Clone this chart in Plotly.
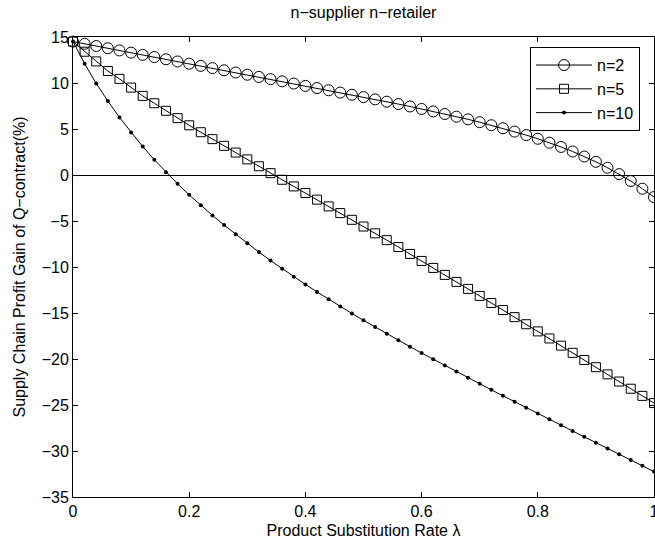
import plotly.graph_objects as go

lam = [0.00, 0.02, 0.04, 0.06, 0.08, 0.10, 0.12, 0.14, 0.16, 0.18,
       0.20, 0.22, 0.24, 0.26, 0.28, 0.30, 0.32, 0.34, 0.36, 0.38,
       0.40, 0.42, 0.44, 0.46, 0.48, 0.50, 0.52, 0.54, 0.56, 0.58,
       0.60, 0.62, 0.64, 0.66, 0.68, 0.70, 0.72, 0.74, 0.76, 0.78,
       0.80, 0.82, 0.84, 0.86, 0.88, 0.90, 0.92, 0.94, 0.96, 0.98, 1.00]

gain_n2 = [14.50, 14.26, 14.02, 13.78, 13.54, 13.30, 13.06, 12.82, 12.58, 12.34,
           12.10, 11.86, 11.62, 11.38, 11.14, 10.90, 10.66, 10.42, 10.18, 9.94,
           9.69, 9.45, 9.21, 8.96, 8.72, 8.47, 8.22, 7.97, 7.71, 7.45,
           7.18, 6.91, 6.63, 6.34, 6.05, 5.74, 5.41, 5.08, 4.72, 4.34,
           3.94, 3.51, 3.05, 2.55, 2.01, 1.43, 0.79, 0.10, -0.66, -1.49, -2.40]

gain_n5 = [14.50, 13.40, 12.35, 11.30, 10.45, 9.50, 8.60, 7.80, 6.98, 6.18,
           5.40, 4.65, 3.90, 3.17, 2.44, 1.70, 0.95, 0.20, -0.52, -1.24,
           -1.96, -2.68, -3.41, -4.14, -4.87, -5.60, -6.34, -7.08, -7.83, -8.58,
           -9.34, -10.10, -10.86, -11.62, -12.38, -13.14, -13.91, -14.68, -15.45, -16.22,
           -17.00, -17.77, -18.55, -19.33, -20.11, -20.89, -21.67, -22.45, -23.23, -24.01, -24.79]

gain_n10 = [14.50, 12.10, 9.95, 8.03, 6.26, 4.61, 3.09, 1.66, 0.30, -0.96,
            -2.16, -3.30, -4.39, -5.44, -6.45, -7.43, -8.38, -9.30, -10.19, -11.05,
            -11.89, -12.71, -13.51, -14.29, -15.05, -15.80, -16.53, -17.25, -17.96, -18.66,
            -19.35, -20.03, -20.70, -21.37, -22.04, -22.70, -23.35, -24.00, -24.65, -25.29,
            -25.93, -26.56, -27.20, -27.83, -28.46, -29.09, -29.72, -30.35, -30.98, -31.61, -32.24]

series_names = ["n=2", "n=5", "n=10"]

FONT = "Liberation Sans, Arial, Helvetica, sans-serif"

fig = go.Figure()
fig.add_trace(go.Scatter(
    x=lam, y=gain_n2, name=series_names[0], mode="lines+markers",
    line=dict(color="black", width=1),
    marker=dict(symbol="circle-open", size=11, color="black", line=dict(width=1)),
    cliponaxis=False))
fig.add_trace(go.Scatter(
    x=lam, y=gain_n5, name=series_names[1], mode="lines+markers",
    line=dict(color="black", width=1),
    marker=dict(symbol="square-open", size=9, color="black", line=dict(width=1)),
    cliponaxis=False))
fig.add_trace(go.Scatter(
    x=lam, y=gain_n10, name=series_names[2], mode="lines+markers",
    line=dict(color="black", width=1),
    marker=dict(symbol="circle", size=4, color="black"),
    cliponaxis=False))

fig.update_layout(
    width=655, height=541,
    paper_bgcolor="white", plot_bgcolor="white",
    margin=dict(l=73, r=1, t=37, b=44),
    font=dict(family=FONT, size=16, color="black"),
    title=dict(text="n\u2212supplier n\u2212retailer", x=0.555, xanchor="center",
               y=0.978, yanchor="middle", font=dict(size=16)),
    showlegend=True,
    legend=dict(x=0.976, xanchor="right", y=0.978, yanchor="top",
                bgcolor="white", bordercolor="black", borderwidth=1,
                font=dict(size=16), tracegroupgap=0, itemwidth=56),
)
fig.update_xaxes(
    range=[0, 1], dtick=0.2, tick0=0, automargin=False,
    showline=True, mirror="ticks", linecolor="black", linewidth=1,
    ticks="inside", ticklen=5, tickcolor="black",
    showgrid=False, zeroline=False, ticklabeloverflow="allow",
    tickfont=dict(size=16),
    title=dict(text="Product Substitution Rate \u03bb", standoff=5, font=dict(size=16)),
)
fig.update_yaxes(
    range=[-35, 15], dtick=5, tick0=0, automargin=False,
    showline=True, mirror="ticks", linecolor="black", linewidth=1,
    ticks="inside", ticklen=5, tickcolor="black",
    showgrid=False, zeroline=True, zerolinecolor="black", zerolinewidth=1,
    tickfont=dict(size=16),
    title=dict(text="Supply Chain Profit Gain of Q\u2212contract(%)", standoff=12, font=dict(size=16)),
)

fig.write_html("out.html", config={"displayModeBar": False},
               post_script="document.body.style.margin='0';document.body.style.overflow='hidden';")
